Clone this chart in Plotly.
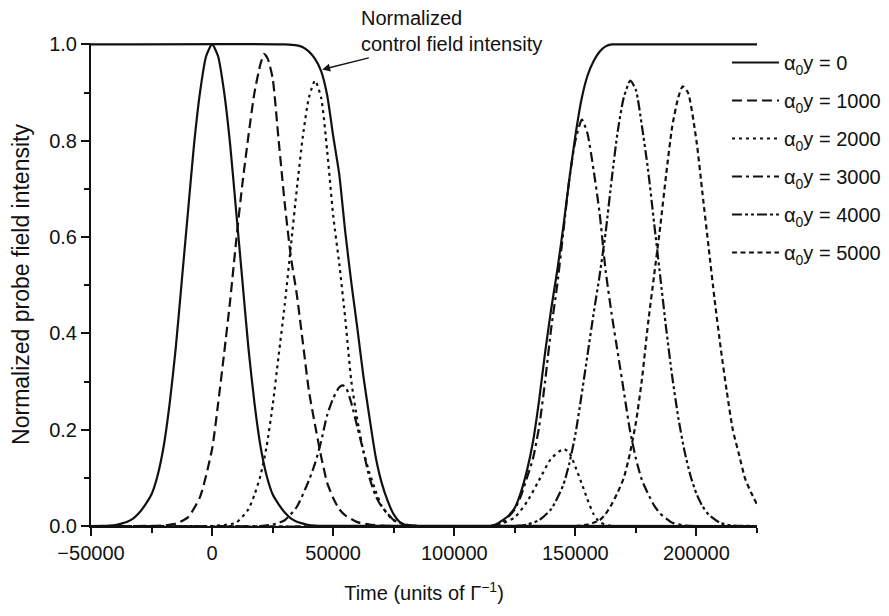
import plotly.graph_objects as go

# ---------------- data ----------------
control_t = [-50000, 30000, 35000, 37500, 40000, 42500, 45000, 47500, 50000, 52500,
             55000, 57500, 60000, 62500, 65000, 67500, 70000, 72500, 75000, 77500,
             80000, 85000, 115000, 117500, 120000, 122500, 125000, 127500, 130000,
             132500, 135000, 137500, 140000, 142500, 145000, 147500, 150000, 152500,
             155000, 157500, 160000, 162500, 165000, 170000, 225000]
control_v = [1.0, 1.0, 0.998, 0.994, 0.985, 0.97, 0.945, 0.895, 0.81, 0.73,
             0.61, 0.505, 0.41, 0.31, 0.225, 0.145, 0.09, 0.052, 0.024, 0.008,
             0.002, 0.0, 0.0, 0.004, 0.012, 0.022, 0.038, 0.07, 0.115,
             0.175, 0.26, 0.36, 0.45, 0.53, 0.62, 0.72, 0.81, 0.885,
             0.935, 0.965, 0.985, 0.996, 1.0, 1.0, 1.0]

p0_t = [-50000, -45000, -42500, -40000, -37500, -35000, -32500, -30000, -27500, -25000,
        -22500, -20000, -17500, -15000, -12500, -10000, -7500, -5000, -2500, 0, 2500,
        5000, 7500, 10000, 12500, 15000, 17500, 20000, 22500, 25000, 27500, 30000,
        32500, 35000, 37500, 40000, 42500, 45000, 225000]
p0_v = [0.0, 0.0005, 0.001, 0.002, 0.005, 0.009, 0.016, 0.028, 0.045, 0.066,
        0.105, 0.165, 0.255, 0.37, 0.51, 0.65, 0.79, 0.9, 0.975, 1.0, 0.975,
        0.9, 0.79, 0.65, 0.51, 0.37, 0.255, 0.165, 0.105, 0.066, 0.045, 0.028,
        0.016, 0.009, 0.005, 0.002, 0.001, 0.0005, 0.0]

p1000_t = [-50000, -20000, -15000, -10000, -5000, 0, 2500, 5000, 7500, 10000, 12500,
           15000, 17500, 20000, 21500, 23000, 25000, 27500, 30000, 32500, 35000, 37500,
           40000, 42500, 45000, 47500, 50000, 52500, 55000, 60000, 65000, 70000, 75000, 225000]
p1000_v = [0.0, 0.001, 0.005, 0.018, 0.06, 0.16, 0.255, 0.36, 0.47, 0.595, 0.71,
           0.81, 0.9, 0.96, 0.98, 0.97, 0.93, 0.8, 0.67, 0.56, 0.48, 0.38,
           0.28, 0.21, 0.145, 0.09, 0.058, 0.035, 0.022, 0.008, 0.003, 0.001, 0.0, 0.0]

p2000_t = [-50000, 0, 5000, 10000, 15000, 17500, 20000, 22500, 25000, 27500, 30000,
           32500, 35000, 37500, 40000, 42500, 45000, 47500, 50000, 52500, 55000, 57500,
           60000, 62500, 65000, 67500, 70000, 72500, 75000, 80000, 85000, 115000, 120000,
           125000, 130000, 135000, 140000, 145200, 147500, 150000, 152500, 155000, 157500,
           160000, 165000, 225000]
p2000_v = [0.0, 0.0, 0.002, 0.007, 0.035, 0.065, 0.105, 0.165, 0.25, 0.355, 0.46,
           0.58, 0.7, 0.81, 0.89, 0.925, 0.89, 0.78, 0.645, 0.545, 0.43, 0.3,
           0.22, 0.155, 0.11, 0.073, 0.042, 0.024, 0.012, 0.002, 0.0, 0.0, 0.006,
           0.018, 0.05, 0.095, 0.14, 0.16, 0.152, 0.123, 0.09, 0.055, 0.025,
           0.008, 0.0, 0.0]

p3000_t = [-50000, 20000, 25000, 30000, 35000, 40000, 42500, 45000, 47500, 50000, 52500,
           54000, 55500, 57500, 60000, 62500, 65000, 67500, 70000, 72500, 75000, 80000,
           85000, 115000, 120000, 125000, 127500, 130000, 132500, 135000, 137500, 140000,
           142500, 145000, 147500, 150000, 152700, 155000, 157500, 160000, 162500, 165000,
           167500, 170000, 172500, 175000, 177500, 180000, 182500, 185000, 190000, 195000, 225000]
p3000_v = [0.0, 0.0, 0.003, 0.012, 0.04, 0.095, 0.13, 0.175, 0.23, 0.265, 0.288,
           0.292, 0.285, 0.255, 0.205, 0.155, 0.1, 0.063, 0.04, 0.026, 0.012, 0.003,
           0.0, 0.0, 0.008, 0.035, 0.062, 0.1, 0.14, 0.205, 0.3, 0.41,
           0.5, 0.61, 0.72, 0.8, 0.844, 0.815, 0.74, 0.65, 0.53, 0.44,
           0.36, 0.28, 0.2, 0.14, 0.095, 0.067, 0.043, 0.026, 0.007, 0.001, 0.0]

p4000_t = [-50000, 125000, 130000, 135000, 140000, 145000, 147500, 150000, 152500, 155000,
           157500, 160000, 162500, 165000, 167500, 170000, 172700, 175000, 177500, 180000,
           182500, 185000, 187500, 190000, 192500, 195000, 197500, 200000, 202500, 205000,
           210000, 215000, 225000]
p4000_v = [0.0, 0.0, 0.003, 0.012, 0.035, 0.085, 0.13, 0.19, 0.27, 0.355,
           0.44, 0.52, 0.61, 0.72, 0.82, 0.89, 0.925, 0.905, 0.83, 0.74,
           0.63, 0.52, 0.41, 0.31, 0.225, 0.157, 0.105, 0.067, 0.041, 0.024,
           0.006, 0.001, 0.0]

p5000_t = [-50000, 150000, 155000, 160000, 162500, 165000, 167500, 170000, 172500, 175000,
           177500, 180000, 182500, 185000, 187500, 190000, 192500, 194300, 196500, 200000,
           202500, 205000, 207500, 210000, 212500, 215000, 217500, 220000, 222500, 225000]
p5000_v = [0.0, 0.0, 0.003, 0.012, 0.025, 0.045, 0.07, 0.1, 0.15, 0.215,
           0.305, 0.42, 0.52, 0.62, 0.73, 0.83, 0.89, 0.913, 0.9, 0.8,
           0.69, 0.58, 0.47, 0.37, 0.28, 0.2, 0.15, 0.1, 0.07, 0.045]

series_names = ["α<sub>0</sub>y = 0", "α<sub>0</sub>y = 1000", "α<sub>0</sub>y = 2000",
                "α<sub>0</sub>y = 3000", "α<sub>0</sub>y = 4000", "α<sub>0</sub>y = 5000"]
series_t = [p0_t, p1000_t, p2000_t, p3000_t, p4000_t, p5000_t]
series_v = [p0_v, p1000_v, p2000_v, p3000_v, p4000_v, p5000_v]

x_tick_vals = [-50000, 0, 50000, 100000, 150000, 200000]
y_tick_vals = [0.0, 0.2, 0.4, 0.6, 0.8, 1.0]

# ---------------- styling ----------------
FONT = "Liberation Sans, Arial, Helvetica, sans-serif"
INK = "#111111"
dashes = ["solid", "10px,5px", "3px,4px", "10px,4px,3px,4px",
          "10px,3px,3px,3px,3px,3px", "5px,3.5px"]

fig = go.Figure()

fig.add_trace(go.Scatter(x=control_t, y=control_v, mode="lines", showlegend=False,
                         line=dict(color=INK, width=2.2, shape="spline", smoothing=0.6),
                         hoverinfo="skip"))

for i, (name, t, v) in enumerate(zip(series_names, series_t, series_v)):
    fig.add_trace(go.Scatter(x=t, y=v, mode="lines", name=name, legendgroup=f"g{i}",
                             line=dict(color=INK, width=2.2, dash=dashes[i],
                                       shape="spline", smoothing=0.6)))

fig.add_annotation(x=60500, y=1.079, xref="x", yref="paper", xanchor="left", yanchor="top",
                   text="Normalized<br>control field intensity", showarrow=False, align="left",
                   font=dict(family=FONT, size=20, color=INK))
fig.add_annotation(x=45500, y=0.948, xref="x", yref="y", text="", showarrow=True,
                   ax=48, ay=-12, arrowhead=2, arrowsize=1.2, arrowwidth=1.3,
                   arrowcolor=INK, standoff=0)

# page body has an 8px margin: margins are reduced by 8px to compensate
fig.update_layout(
    width=889, height=616,
    margin=dict(l=83, r=139, t=35, b=98),
    paper_bgcolor="white", plot_bgcolor="white",
    font=dict(family=FONT, size=20, color=INK),
    legend=dict(x=0.9535, y=1.0, xanchor="left", yanchor="top", itemwidth=47,
                bgcolor="rgba(0,0,0,0)", tracegroupgap=9,
                font=dict(family=FONT, size=20, color=INK)),
    xaxis=dict(range=[-50000, 225000], tickvals=x_tick_vals, tickformat="d",
               automargin=False,
               showline=True, linewidth=2, linecolor=INK, ticks="outside",
               ticklen=8, tickwidth=2, tickcolor=INK, showgrid=False, zeroline=False,
               minor=dict(dtick=25000, tick0=-50000, ticks="outside", ticklen=5,
                          tickwidth=1.5, tickcolor=INK, showgrid=False),
               title=dict(text="Time (units of Γ<sup>−1</sup>)", standoff=23,
                          font=dict(family=FONT, size=20, color=INK)),
               tickfont=dict(family=FONT, size=20, color=INK)),
    yaxis=dict(range=[0, 1.003], tickvals=y_tick_vals, tickformat=".1f",
               automargin=False,
               showline=True, linewidth=2, linecolor=INK, ticks="outside",
               ticklen=8, tickwidth=2, tickcolor=INK, showgrid=False, zeroline=False,
               minor=dict(dtick=0.1, tick0=0, ticks="outside", ticklen=5,
                          tickwidth=1.5, tickcolor=INK, showgrid=False),
               title=dict(text="Normalized probe field intensity", standoff=22,
                          font=dict(family=FONT, size=23, color=INK)),
               tickfont=dict(family=FONT, size=20, color=INK)),
)

fig.write_html("out.html")
